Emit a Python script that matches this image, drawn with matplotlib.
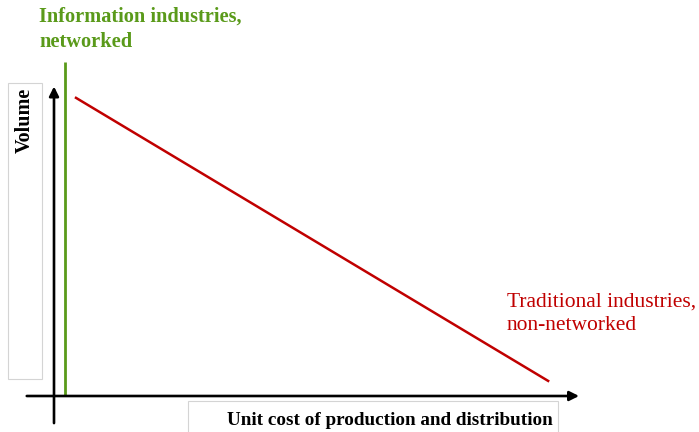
import matplotlib
matplotlib.use("Agg")
import matplotlib.pyplot as plt
from matplotlib.patches import Rectangle

# Conceptual diagram data (units: 0-100 along each axis)
red_x = [4.2, 94.3]          # traditional industries line
red_y = [96.8, 4.9]
green_x = [2.1, 2.1]         # information industries line (vertical)
green_y = [0, 108.4]
xlabel = "Unit cost of production and distribution"
ylabel = "Volume"
green_label = ["Information industries,", "networked"]
red_label = ["Traditional industries,", "non-networked"]

GREEN = "#5a9a1a"
RED = "#c00000"
W, H = 699, 432
fig = plt.figure(figsize=(W / 100, H / 100), dpi=100)
ax = fig.add_axes([54 / W, (H - 396) / H, 524 / W, 308 / H])
ax.set_xlim(0, 100)
ax.set_ylim(0, 100)
ax.axis("off")

serif = ["Liberation Serif", "DejaVu Serif"]

# axes arrows
ax.annotate("", xy=(100.2, 0), xytext=(-5.2, 0),
            arrowprops=dict(arrowstyle="-|>", color="black", lw=1.9,
                            mutation_scale=14, shrinkA=0, shrinkB=0),
            annotation_clip=False)
ax.annotate("", xy=(0, 100.5), xytext=(0, -8.8),
            arrowprops=dict(arrowstyle="-|>", color="black", lw=1.9,
                            mutation_scale=14, shrinkA=0, shrinkB=0),
            annotation_clip=False)

ax.plot(green_x, green_y, color=GREEN, lw=2.0, clip_on=False, solid_capstyle="butt")
ax.plot(red_x, red_y, color=RED, lw=1.8, clip_on=False)

# label boxes (figure pixel coords)
def px(x, y):
    return x / W, 1 - y / H

fig.patches.append(Rectangle(px(8, 379), 34 / W, 296 / H, transform=fig.transFigure,
                             fill=False, edgecolor="#d4d4d4", lw=0.8))
fig.patches.append(Rectangle(px(188, 440), 370 / W, 39 / H, transform=fig.transFigure,
                             fill=False, edgecolor="#d4d4d4", lw=0.8))

fig.text(*px(25, 120), ylabel, rotation=90, ha="center", va="center",
         family=serif, fontweight="bold", fontsize=14.5, color="black")
fig.text(*px(390, 425), xlabel, ha="center", va="baseline",
         family=serif, fontweight="bold", fontsize=13.8, color="black")
for line, yb in zip(green_label, [22, 47]):
    fig.text(*px(39, yb), line, ha="left", va="baseline", family=serif,
             fontweight="bold", fontsize=14.7, color=GREEN)
for line, yb in zip(red_label, [307, 330]):
    fig.text(*px(507, yb), line, ha="left", va="baseline", family=serif,
             fontsize=15.5, color=RED)

fig.savefig("out.png", dpi=100, facecolor="white")
